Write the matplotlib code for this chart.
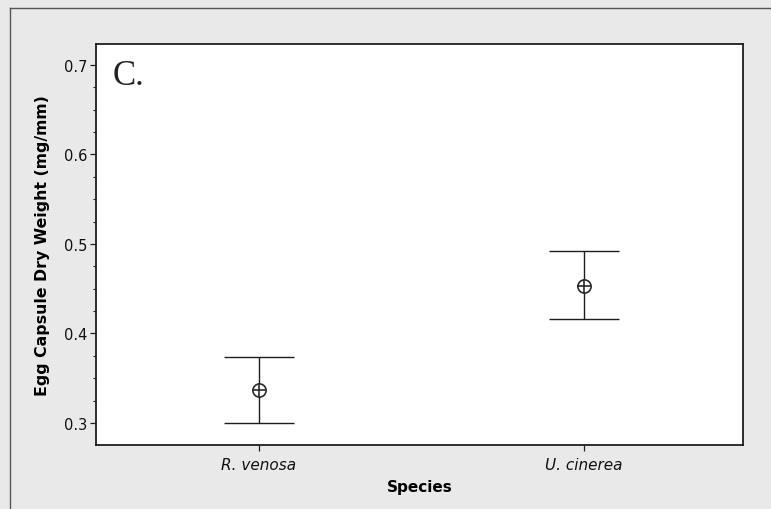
import numpy as np
import matplotlib.pyplot as plt
from matplotlib.lines import Line2D
from matplotlib.ticker import MultipleLocator

# egg capsule dry weight per species: mean with upper/lower interval
species = ["R. venosa", "U. cinerea"]
mean_wt = [0.337, 0.453]
lower_wt = [0.300, 0.416]
upper_wt = [0.374, 0.492]

bg = "#e9e9e9"
ink = "#1e1e1e"

fig = plt.figure(figsize=(7.71, 5.10), dpi=100, facecolor=bg)
ax = fig.add_axes([0.1245, 0.1255, 0.8392, 0.7863])
ax.set_facecolor("white")

x = np.arange(len(species))
mean = np.array(mean_wt)
err = [mean - np.array(lower_wt), np.array(upper_wt) - mean]

ax.errorbar(x, mean, yerr=err, fmt="none", ecolor=ink, elinewidth=1.0,
            capsize=25, capthick=1.0)
ax.plot(x, mean, "o", ms=9.5, mfc="white", mec="#2a2a2a", mew=1.2, ls="none")
ax.plot(x, mean, "+", ms=9.5, mec="#2a2a2a", mew=1.2, ls="none")

ax.set_xlim(-0.5, 1.49)
ax.set_ylim(0.2754, 0.7234)
ax.set_xticks(x)
ax.set_xticklabels(species, style="italic", fontsize=11)
ax.set_yticks([0.3, 0.4, 0.5, 0.6, 0.7])
ax.set_yticklabels(["0.3", "0.4", "0.5", "0.6", "0.7"], fontsize=10.5)
ax.yaxis.set_minor_locator(MultipleLocator(0.025))
ax.tick_params(axis="both", which="major", length=4, width=0.9, color=ink,
               labelcolor="#111111", pad=2)
ax.tick_params(axis="y", which="minor", length=2.2, width=0.8, color=ink)
ax.tick_params(axis="x", pad=5)

for s in ax.spines.values():
    s.set_color(ink)
    s.set_linewidth(1.3)

ax.set_xlabel("Species", fontsize=11, fontweight="bold", labelpad=5)
ax.set_ylabel("Egg Capsule Dry Weight (mg/mm)", fontsize=11.3,
              fontweight="bold", labelpad=10)

ax.text(0.026, 0.90, "C.", transform=ax.transAxes, fontsize=25,
        family="Liberation Serif", color="#222222", va="baseline")

# thin frame on the left and top of the panel
fig.add_artist(Line2D([10 / 771, 10 / 771], [0, 1 - 9 / 510],
                      transform=fig.transFigure, color="#555555", lw=1.0))
fig.add_artist(Line2D([10 / 771, 1], [1 - 9 / 510, 1 - 9 / 510],
                      transform=fig.transFigure, color="#555555", lw=1.0))

fig.savefig("out.png", dpi=100, facecolor=bg)
